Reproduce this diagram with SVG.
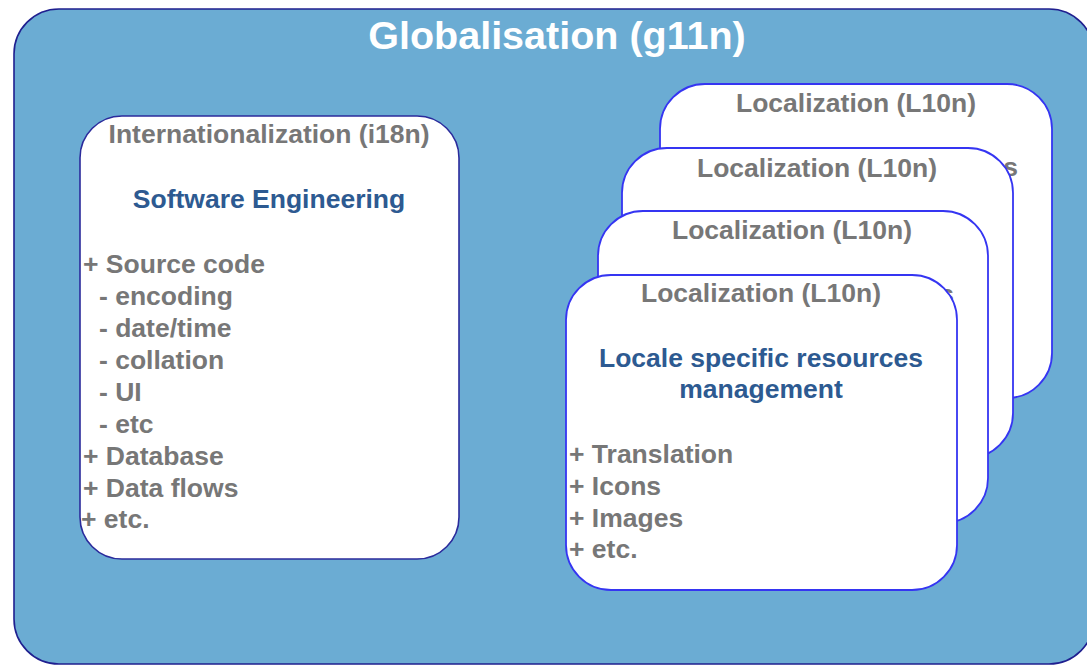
<svg xmlns="http://www.w3.org/2000/svg" width="1087" height="666" viewBox="0 0 1087 666">
<style>
text{font-family:"Liberation Sans",Arial,sans-serif;font-weight:bold;font-size:26.5px}
.title{fill:#ffffff;font-size:39.5px;text-anchor:middle}
.hd{fill:#777777;text-anchor:middle}
.sub{fill:#2d5a91;text-anchor:middle}
.li{fill:#777777}
.card{fill:#ffffff;stroke:#3535f2;stroke-width:1.8}
</style>
<rect width="1087" height="666" fill="#ffffff"/>
<g id="globalisation">
<rect x="14" y="9" width="1080" height="655" rx="45" ry="45" fill="#6bacd3" stroke="#1f1f8f" stroke-width="1.6"/>
<text class="title" x="557" y="49">Globalisation (g11n)</text>
</g>
<g id="i18n">
<rect x="80" y="116" width="379" height="443" rx="42" ry="42" fill="#ffffff" stroke="#2b2b9c" stroke-width="1.6"/>
<text class="hd" x="269" y="143">Internationalization (i18n)</text>
<text class="sub" x="269" y="208">Software Engineering</text>
<text class="li" x="83" y="273">+ Source code</text>
<text class="li" x="99" y="305">- encoding</text>
<text class="li" x="99" y="337">- date/time</text>
<text class="li" x="99" y="369">- collation</text>
<text class="li" x="99" y="401">- UI</text>
<text class="li" x="99" y="433">- etc</text>
<text class="li" x="83" y="465">+ Database</text>
<text class="li" x="83" y="497">+ Data flows</text>
<text class="li" x="81" y="528">+ etc.</text>
</g>
<g id="l10n-1">
<rect class="card" x="660" y="84" width="392" height="314" rx="45" ry="45"/>
<text class="hd" x="856" y="112">Localization (L10n)</text>
<text class="li" x="1018" y="176" text-anchor="end">s</text>
</g>
<g id="l10n-2">
<rect class="card" x="622" y="148" width="391" height="310" rx="45" ry="45"/>
<text class="hd" x="817" y="177">Localization (L10n)</text>
</g>
<g id="l10n-3">
<rect class="card" x="598" y="211" width="390" height="312" rx="45" ry="45"/>
<text class="hd" x="792" y="239">Localization (L10n)</text>
<text class="li" x="954" y="303" text-anchor="end">s</text>
</g>
<g id="l10n-4">
<rect class="card" x="566" y="275" width="391" height="315" rx="45" ry="45"/>
<text class="hd" x="761" y="302">Localization (L10n)</text>
<text class="sub" x="761" y="367">Locale specific resources</text>
<text class="sub" x="761" y="398">management</text>
<text class="li" x="569" y="463">+ Translation</text>
<text class="li" x="569" y="495">+ Icons</text>
<text class="li" x="569" y="527">+ Images</text>
<text class="li" x="569" y="558">+ etc.</text>
</g>
<g id="connectors"/>
</svg>
